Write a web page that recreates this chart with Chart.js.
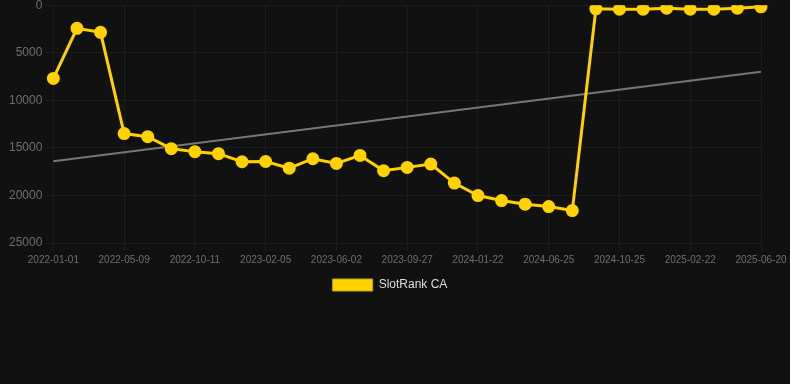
<!DOCTYPE html>
<html>
<head>
<meta charset="utf-8">
<script src="https://cdn.jsdelivr.net/npm/chart.js@4"></script>
<style>
  html, body { margin: 0; padding: 0; background: #111111; overflow: hidden; }
  #wrap { width: 790px; height: 390px; margin-top: -5px; }
</style>
</head>
<body>
<div id="wrap"><canvas id="myChart"></canvas></div>
<script>
var dates = [
    "2022-01-01", "2022-02-13", "2022-03-28",
    "2022-05-09", "2022-06-29", "2022-08-20",
    "2022-10-11", "2022-11-19", "2022-12-28",
    "2023-02-05", "2023-03-16", "2023-04-24",
    "2023-06-02", "2023-07-11", "2023-08-19",
    "2023-09-27", "2023-11-05", "2023-12-14",
    "2024-01-22", "2024-03-13", "2024-05-04",
    "2024-06-25", "2024-08-04", "2024-09-14",
    "2024-10-25", "2024-12-04", "2025-01-13",
    "2025-02-22", "2025-04-02", "2025-05-11",
    "2025-06-20"
];
var rankValues = [
    7700, 2430, 2850,
    13500, 13820, 15080,
    15400, 15610, 16460,
    16430, 17130, 16140,
    16630, 15790, 17400,
    17050, 16700, 18700,
    20010, 20540, 20920,
    21170, 21590, 386,
    422, 422, 316,
    422, 422, 316,
    175
];
// trend line: only the two ends, the rest is spanned
var trendStart = 16400;
var trendEnd = 7000;
var yTicks = [0, 5000, 10000, 15000, 20000, 25000];

var trendValues = dates.map(function (d, i) {
    if (i === 0) return trendStart;
    if (i === dates.length - 1) return trendEnd;
    return null;
});

var yellow = "#FFD200";
var gridColor = "#1d1d1d";

// nudge the legend a bit to the right, like the original
var legendNudge = {
    id: "legendNudge",
    afterLayout: function (chart) {
        chart.legend.left += 13;
    }
};

new Chart("myChart", {
    type: "line",
    data: {
        labels: dates,
        datasets: [{
            label: "SlotRank CA",
            data: rankValues,
            borderColor: yellow,
            backgroundColor: yellow,
            borderWidth: 3,
            pointRadius: 5,
            pointBackgroundColor: yellow,
            pointBorderColor: yellow,
            tension: 0
        }, {
            label: "trend",
            data: trendValues,
            spanGaps: true,
            borderColor: "#777777",
            borderWidth: 2,
            pointRadius: 0,
            tension: 0
        }]
    },
    plugins: [legendNudge],
    options: {
        animation: false,
        responsive: true,
        maintainAspectRatio: false,
        layout: { padding: { left: 6, right: 29, top: 0, bottom: 84 } },
        plugins: {
            tooltip: { enabled: false },
            legend: {
                position: "bottom",
                labels: {
                    color: "#dddddd",
                    font: { family: "Liberation Sans", size: 12 },
                    boxWidth: 40,
                    boxHeight: 12,
                    generateLabels: function (chart) {
                        var items = Chart.defaults.plugins.legend.labels.generateLabels(chart);
                        items.forEach(function (it) { it.lineWidth = 1; it.strokeStyle = "#c9a600"; });
                        return items;
                    },
                    filter: function (item) { return item.text === "SlotRank CA"; }
                }
            }
        },
        scales: {
            x: {
                grid: {
                    color: function (ctx) { return ctx.index % 3 === 0 ? gridColor : "transparent"; }
                },
                border: { color: gridColor },
                ticks: {
                    autoSkip: false,
                    maxRotation: 0,
                    color: "#6f6f6f",
                    font: { family: "Liberation Sans", size: 10 },
                    callback: function (v, i) { return i % 3 === 0 ? dates[i] : ""; }
                }
            },
            y: {
                reverse: true,
                min: yTicks[0],
                max: yTicks[yTicks.length - 1],
                grid: { color: gridColor },
                border: { color: gridColor },
                afterBuildTicks: function (axis) {
                    axis.ticks = yTicks.map(function (v) { return { value: v }; });
                },
                ticks: {
                    color: "#6f6f6f",
                    font: { family: "Liberation Sans", size: 12 },
                    callback: function (v) { return v; }
                }
            }
        }
    }
});
</script>
</body>
</html>
